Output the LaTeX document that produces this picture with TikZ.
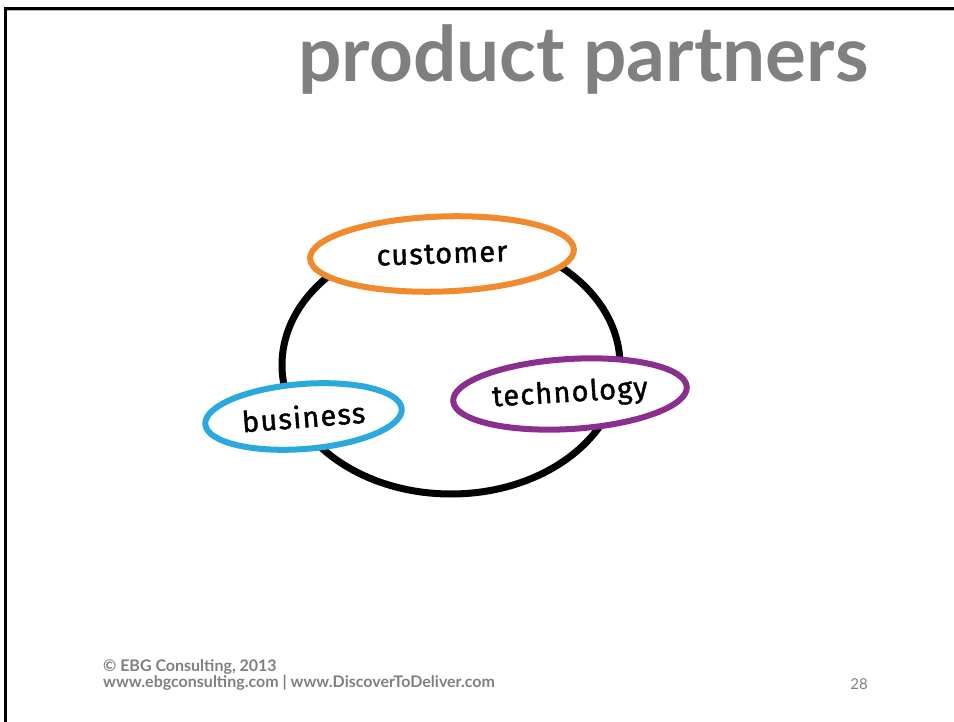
\documentclass[tikz,border=0pt]{standalone}
\usepackage{fontspec}
\setmainfont{Lato}
\newfontfamily\bubblefont[LetterSpace=4,FakeBold=1.3]{Fira Sans}
\usetikzlibrary{shapes.geometric}
\definecolor{slidegray}{HTML}{808080}
\definecolor{custorange}{HTML}{F08A2C}
\definecolor{busblue}{HTML}{2AA9DF}
\definecolor{techpurple}{HTML}{8B2F8F}

\begin{document}
\begin{tikzpicture}[x=1pt,y=-1pt,
  bubble/.style={ellipse,draw=#1,fill=white,line width=6pt,inner sep=0pt,
    font=\bubblefont\fontsize{29}{31}\selectfont},
  footer/.style={anchor=base west,inner sep=0pt,text=slidegray,
    font=\bfseries\fontsize{16}{18}\selectfont}]
\useasboundingbox (0,0) rectangle (954,722);
% slide frame
\draw[slidegray!60,line width=1pt] (6.5,10.8)--(954,10.8);
\draw[line width=2.5pt] (5.5,722)--(5.5,8.5)--(954,8.5);
% title
\node[anchor=base west,inner sep=0pt,text=slidegray,font=\bfseries\fontsize{76.5}{84}\selectfont]
  (title) at (298,82) {product partners};
% the loop behind the three partners
\draw[line width=7pt] (451,365) ellipse [x radius=169,y radius=129];
\node[bubble=custorange,minimum width=264pt,minimum height=75pt,rotate=2]
  (customer) at (442,254) {customer};
\node[bubble=busblue,minimum width=197pt,minimum height=65pt,rotate=4.5]
  (business) at (303.5,416.5) {business};
\node[bubble=techpurple,minimum width=234pt,minimum height=70pt,rotate=3.5]
  (technology) at (570,394) {technology};
% footer
\node[footer] (copy) at (103,671) {\textcopyright{} EBG Consulting, 2013};
\node[footer] (urls) at (103,687) {www.ebgconsulting.com | www.DiscoverToDeliver.com};
\node[anchor=base east,inner sep=0pt,text=slidegray,font=\fontsize{15}{17}\selectfont]
  (page) at (868,689) {28};
\end{tikzpicture}
\end{document}
